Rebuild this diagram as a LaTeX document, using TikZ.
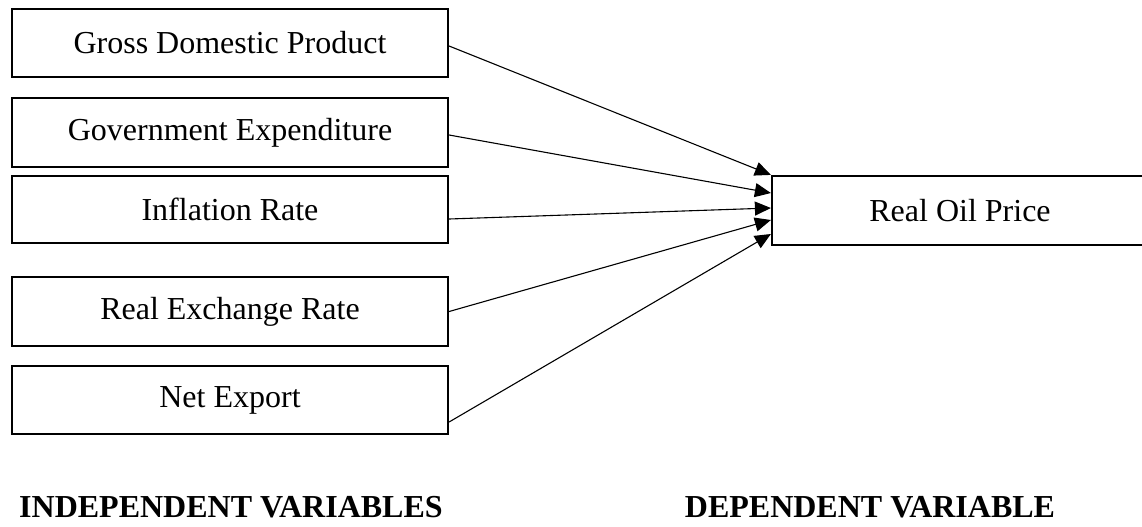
\documentclass[tikz,border=0pt]{standalone}
\usepackage{fontspec}
\setmainfont{Liberation Serif}
\usetikzlibrary{arrows.meta}
\begin{document}
\begin{tikzpicture}[x=0.5pt,y=-0.5pt,
  varbox/.style={draw, line width=1.1pt, inner sep=0pt, minimum width=218pt, font=\fontsize{16}{19}\selectfont},
  arr/.style={line width=0.55pt, -{Triangle[length=8pt,width=7pt]}},
  lbl/.style={font=\fontsize{16}{19}\selectfont\bfseries, inner sep=0pt}]
\useasboundingbox (0,0) rectangle (1142,526);
\node[varbox, minimum height=34pt] (b1) at (230,43) {Gross Domestic Product};
\node[varbox, minimum height=34.5pt] (b2) at (230,132.5) {Government Expenditure};
\node[varbox, minimum height=33.5pt] (b3) at (230,209.5) {Inflation Rate};
\node[varbox, minimum height=34.5pt] (b4) at (230,311.5) {Real Exchange Rate};
\node[varbox, minimum height=34pt] (b5) at (230,400) {Net Export};
\node[varbox, minimum width=188pt, minimum height=34.5pt] (r) at (960,210.5) {Real Oil Price};
\draw[arr] ([yshift=-1.5pt]b1.east) -- (r.north west);
\draw[arr] ([yshift=-1.25pt]b2.east) -- ([yshift=8.75pt]r.west);
\draw[arr] ([yshift=-4.75pt]b3.east) -- ([yshift=1.25pt]r.west);
\draw[arr] (b4.east) -- ([yshift=-4.75pt]r.west);
\draw[arr] ([yshift=-11pt]b5.east) -- ([yshift=-11.75pt]r.west);
\node[lbl] (li) at (231,507) {INDEPENDENT VARIABLES};
\node[lbl] (ld) at (870,507) {DEPENDENT VARIABLE};
\end{tikzpicture}
\end{document}
